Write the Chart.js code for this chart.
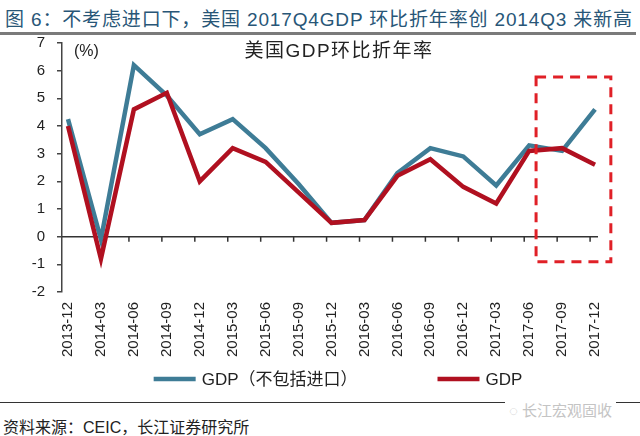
<!DOCTYPE html>
<html>
<head>
<meta charset="utf-8">
<script src="https://cdn.jsdelivr.net/npm/chart.js@4.4.0/dist/chart.umd.min.js"></script>
<style>
  body { margin: 0; width: 640px; height: 436px; position: relative; background: #fff; overflow: hidden;
         font-family: "Liberation Sans", "Noto Sans CJK SC", sans-serif; }
  #title { position: absolute; left: 5px; top: 4px; font-size: 19px; color: #285677; letter-spacing: 0.85px; white-space: nowrap; }
  #rule { position: absolute; left: 0; top: 32px; width: 636px; height: 3px; background: #7a7a7a; }
  #wrap { position: absolute; left: 0; top: 36px; }
  #foot-rule { position: absolute; left: 0; top: 402px; width: 640px; height: 1px; background: #333; }
  #source { position: absolute; left: 3px; top: 414px; font-size: 16px; color: #222; white-space: nowrap; }
  #mark { position: absolute; left: 505px; top: 399px; font-size: 15px; color: #c4c4c4; background: #fff; padding: 0 4px; white-space: nowrap; }
</style>
</head>
<body>
<div id="title">图 6：不考虑进口下，美国 2017Q4GDP 环比折年率创 2014Q3 来新高</div>
<div id="rule"></div>
<div id="wrap"><canvas id="chart" width="640" height="364"></canvas></div>
<div id="foot-rule"></div>
<div id="mark">◌ 长江宏观固收</div>
<div id="source">资料来源：CEIC，长江证券研究所</div>
<script>
// quarters on the x axis
const quarters = ["2013-12", "2014-03", "2014-06", "2014-09", "2014-12", "2015-03", "2015-06", "2015-09",
  "2015-12", "2016-03", "2016-06", "2016-09", "2016-12", "2017-03", "2017-06", "2017-09", "2017-12"];

// GDP excluding imports (blue) and GDP (red), annualised q/q, %
const gdpExImports = [4.25, -0.1, 6.2, 5.1, 3.7, 4.25, 3.2, 1.9, 0.5, 0.6, 2.3, 3.2, 2.9, 1.85, 3.3, 3.1, 4.6];
const gdp = [4.0, -0.8, 4.6, 5.2, 2.0, 3.2, 2.7, 1.6, 0.5, 0.6, 2.2, 2.8, 1.8, 1.2, 3.1, 3.2, 2.6];

const yTicks = [-2, -1, 0, 1, 2, 3, 4, 5, 6, 7];
const seriesNames = ["GDP（不包括进口）", "GDP"];
const innerTitle = "美国GDP环比折年率";
const unitLabel = "(%)";
// highlighted box, in axis units (quarter index, percent)
const boxX = [14.21, 16.48];
const boxY = [-0.91, 5.77];

const FONT = '"Liberation Sans", "Noto Sans CJK SC", sans-serif';
Chart.defaults.font.family = FONT;

const blue = "#3e7c96";
const red = "#b01020";

// zero line with small ticks, inner title, unit label
const decorations = {
  id: "decorations",
  beforeDatasetsDraw(chart) {
    const { ctx, chartArea, scales } = chart;
    const y0 = scales.y.getPixelForValue(0);
    ctx.save();
    ctx.strokeStyle = "#333";
    ctx.lineWidth = 1.5;
    ctx.beginPath();
    ctx.moveTo(chartArea.left, y0);
    ctx.lineTo(chartArea.right, y0);
    quarters.forEach((q, i) => {
      const x = scales.x.getPixelForValue(i - 0.15);
      if (i > 0) {
        ctx.moveTo(x, y0);
        ctx.lineTo(x, y0 + 5);
      }
    });
    ctx.stroke();

    ctx.fillStyle = "#222";
    ctx.textBaseline = "middle";
    ctx.font = "16px " + FONT;
    ctx.textAlign = "left";
    ctx.fillText(unitLabel, chartArea.left + 12, chartArea.top + 9);
    ctx.font = "19px " + FONT;
    ctx.letterSpacing = "1.5px";
    ctx.textAlign = "center";
    ctx.fillText(innerTitle, 339, chartArea.top + 9);
    ctx.restore();
  },
  afterDraw(chart) {
    const { ctx, scales } = chart;
    // dashed box
    const l = scales.x.getPixelForValue(boxX[0]);
    const r = scales.x.getPixelForValue(boxX[1]);
    const t = scales.y.getPixelForValue(boxY[1]);
    const b = scales.y.getPixelForValue(boxY[0]);
    ctx.save();
    ctx.strokeStyle = "#e02027";
    ctx.lineWidth = 3;
    ctx.setLineDash([10, 7]);
    ctx.strokeRect(l, t, r - l, b - t);
    ctx.restore();

    // legend
    ctx.save();
    ctx.font = "17px " + FONT;
    ctx.textBaseline = "middle";
    ctx.textAlign = "left";
    const lineLen = 42, textGap = 6, itemGap = 80, ly = 343;
    const items = chart.data.datasets.map((d) => ({ text: d.label, color: d.borderColor, w: lineLen + textGap + ctx.measureText(d.label).width }));
    const total = items.reduce((s, it) => s + it.w, 0) + itemGap * (items.length - 1);
    let x = 338 - total / 2;
    items.forEach((it) => {
      ctx.strokeStyle = it.color;
      ctx.lineWidth = 4.5;
      ctx.beginPath();
      ctx.moveTo(x, ly);
      ctx.lineTo(x + lineLen, ly);
      ctx.stroke();
      ctx.fillStyle = "#222";
      ctx.fillText(it.text, x + lineLen + textGap, ly + 1);
      x += it.w + itemGap;
    });
    ctx.restore();
  }
};

new Chart(document.getElementById("chart"), {
  type: "line",
  data: {
    datasets: [
      {
        label: seriesNames[0],
        data: gdpExImports.map((v, i) => ({ x: i, y: v })),
        borderColor: blue,
        backgroundColor: blue,
        borderWidth: 4.5,
        pointRadius: 0,
        tension: 0,
        borderJoinStyle: "miter",
        order: 1,
      },
      {
        label: seriesNames[1],
        data: gdp.map((v, i) => ({ x: i, y: v })),
        borderColor: red,
        backgroundColor: red,
        borderWidth: 4.5,
        pointRadius: 0,
        tension: 0,
        borderJoinStyle: "miter",
        order: 0,
      },
    ],
  },
  options: {
    responsive: false,
    animation: false,
    layout: { padding: { top: 7, right: 42, left: 0, bottom: 0 } },
    plugins: { legend: { display: false }, tooltip: { enabled: false } },
    scales: {
      x: {
        type: "linear",
        min: -0.182,
        max: 16.09,
        afterBuildTicks: (s) => { s.ticks = quarters.map((q, i) => ({ value: i })); },
        afterFit: (s) => { s.height = 108; s.paddingLeft = 0; s.paddingRight = 0; },
        grid: { display: false, drawTicks: false },
        border: { display: false },
        ticks: {
          autoSkip: false,
          minRotation: 90,
          maxRotation: 90,
          padding: 10,
          color: "#222",
          font: { size: 15 },
          callback: (v) => quarters[v],
        },
      },
      y: {
        min: -2,
        max: 7,
        afterBuildTicks: (s) => { s.ticks = yTicks.map((v) => ({ value: v })); },
        afterFit: (s) => { s.width = 62; s.paddingTop = 0; s.paddingBottom = 0; },
        grid: { drawOnChartArea: false, tickLength: 5, color: "#444", lineWidth: 1.5 },
        border: { color: "#444", width: 1.5 },
        ticks: { padding: 12, color: "#222", font: { size: 15 } },
      },
    },
  },
  plugins: [decorations],
});
</script>
</body>
</html>
